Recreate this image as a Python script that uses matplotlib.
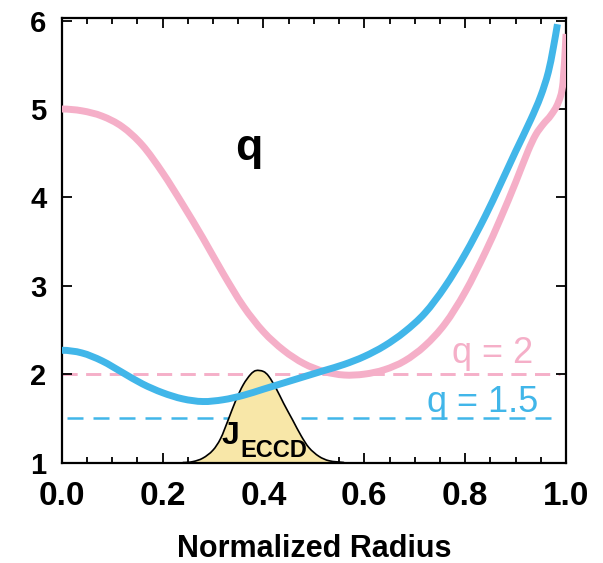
import matplotlib
matplotlib.use("Agg")
import matplotlib.pyplot as plt
from matplotlib.ticker import MultipleLocator
from matplotlib.path import Path
from matplotlib.patches import PathPatch
import numpy as np

# ---- data ----
q_pink_x = [0.000, 0.040, 0.080, 0.120, 0.160, 0.200, 0.240, 0.280, 0.320,
            0.360, 0.400, 0.440, 0.480, 0.520, 0.560, 0.600, 0.640, 0.680,
            0.720, 0.760, 0.800, 0.840, 0.870, 0.900, 0.925, 0.940, 0.955,
            0.970, 0.985, 0.994, 1.000]
q_pink_y = [5.00, 4.98, 4.92, 4.80, 4.59, 4.28, 3.92, 3.54, 3.14,
            2.77, 2.48, 2.27, 2.12, 2.03, 1.99, 2.00, 2.05, 2.15,
            2.32, 2.57, 2.93, 3.38, 3.76, 4.17, 4.53, 4.71, 4.83,
            4.93, 5.08, 5.30, 5.85]

q_blue_x = [0.000, 0.040, 0.080, 0.120, 0.160, 0.200, 0.240, 0.280, 0.320,
            0.360, 0.400, 0.440, 0.480, 0.520, 0.560, 0.600, 0.640, 0.680,
            0.720, 0.760, 0.800, 0.840, 0.870, 0.900, 0.930, 0.950, 0.965,
            0.975, 0.983]
q_blue_y = [2.27, 2.24, 2.15, 2.02, 1.89, 1.79, 1.72, 1.69, 1.71,
            1.76, 1.83, 1.90, 1.97, 2.04, 2.11, 2.20, 2.32, 2.48,
            2.69, 2.99, 3.36, 3.79, 4.15, 4.52, 4.88, 5.15, 5.42,
            5.70, 5.96]

j_x = [0.240, 0.260, 0.280, 0.300, 0.315, 0.330, 0.345, 0.360, 0.375, 0.385,
       0.400, 0.410, 0.425, 0.440, 0.458, 0.475, 0.490, 0.510, 0.530, 0.560]
j_y = [1.00, 1.01, 1.05, 1.14, 1.27, 1.48, 1.70, 1.88, 2.00, 2.04,
       2.03, 1.98, 1.84, 1.67, 1.48, 1.30, 1.17, 1.07, 1.02, 1.00]

q2_level = 2.0
q15_level = 1.5

x_ticks = [0.0, 0.2, 0.4, 0.6, 0.8, 1.0]
x_ticklabels = ["0.0", "0.2", "0.4", "0.6", "0.8", "1.0"]
y_ticks = [1, 2, 3, 4, 5, 6]
y_ticklabels = ["1", "2", "3", "4", "5", "6"]

PINK = "#F5AFC8"
BLUE = "#41B6E9"
FILL = "#F8E7A8"


def smooth_path(xs, ys, close=False):
    """Cubic Bezier path (Catmull-Rom style tangents) through the given points."""
    x = np.asarray(xs, float)
    y = np.asarray(ys, float)
    h = np.diff(x)
    m = np.zeros_like(y)
    m[0] = 0.0
    m[-1] = (y[-1] - y[-2]) / (x[-1] - x[-2])
    for k in range(1, len(x) - 1):
        m[k] = (y[k + 1] - y[k - 1]) / (x[k + 1] - x[k - 1])
    verts = [(x[0], y[0])]
    codes = [Path.MOVETO]
    for k in range(len(x) - 1):
        verts += [(x[k] + h[k] / 3, y[k] + m[k] * h[k] / 3),
                  (x[k + 1] - h[k] / 3, y[k + 1] - m[k + 1] * h[k] / 3),
                  (x[k + 1], y[k + 1])]
        codes += [Path.CURVE4] * 3
    if close:
        verts.append((x[0], y[0]))
        codes.append(Path.CLOSEPOLY)
    return Path(verts, codes)


FONT = ["Liberation Sans", "DejaVu Sans"]
plt.rcParams["font.family"] = FONT

fig = plt.figure(figsize=(6.03, 5.63), dpi=100)
ax = fig.add_axes([0.1023, 0.1785, 0.8364, 0.7895])

ax.plot([0, 0.988], [q2_level, q2_level], color=PINK, lw=2.1, ls=(0, (5.2, 2.9)), zorder=1)
ax.plot([0.01, 0.988], [q15_level, q15_level], color=BLUE, lw=1.8, ls=(0, (6.4, 4.0)), zorder=1)

ax.add_patch(PathPatch(smooth_path(j_x, j_y, close=True), facecolor=FILL,
                       edgecolor="none", zorder=2))
ax.add_patch(PathPatch(smooth_path(j_x, j_y), facecolor="none",
                       edgecolor="black", lw=1.2, zorder=2.2))

ax.add_patch(PathPatch(smooth_path(q_pink_x, q_pink_y), facecolor="none",
                       edgecolor=PINK, lw=5, capstyle="butt", zorder=3))
ax.add_patch(PathPatch(smooth_path(q_blue_x, q_blue_y), facecolor="none",
                       edgecolor=BLUE, lw=5, capstyle="butt", zorder=4))

ax.text(0.343, 4.42, "q", fontsize=32, fontweight="bold", ha="left", va="baseline")
ax.text(0.935, 2.13, "q = 2", fontsize=26, color=PINK, ha="right", va="baseline")
ax.text(0.945, 1.57, "q = 1.5", fontsize=26, color=BLUE, ha="right", va="baseline")
ax.text(0.316, 1.21, "J", fontsize=23, fontweight="bold", ha="left", va="baseline", zorder=5)
ax.text(0.354, 1.06, "ECCD", fontsize=17, fontweight="bold", ha="left", va="baseline", zorder=5)

ax.set_xlim(0, 1.0)
ax.set_ylim(1, 6.03)
ax.set_xticks(x_ticks)
ax.set_xticklabels(x_ticklabels)
ax.set_yticks(y_ticks)
ax.set_yticklabels(y_ticklabels)
ax.xaxis.set_minor_locator(MultipleLocator(0.05))

for s in ax.spines.values():
    s.set_linewidth(1.6)

ax.tick_params(axis="both", which="both", direction="in", top=True, right=True, width=1.3)
ax.tick_params(axis="x", which="major", length=7, pad=13, labelsize=24)
ax.tick_params(axis="x", which="minor", length=4)
ax.tick_params(axis="y", which="major", length=7, pad=11, labelsize=21)
for lab in ax.get_xticklabels() + ax.get_yticklabels():
    lab.set_fontweight("bold")

ax.set_xlabel("Normalized Radius", fontsize=22, fontweight="bold", labelpad=16)

fig.savefig("out.png", dpi=100)
